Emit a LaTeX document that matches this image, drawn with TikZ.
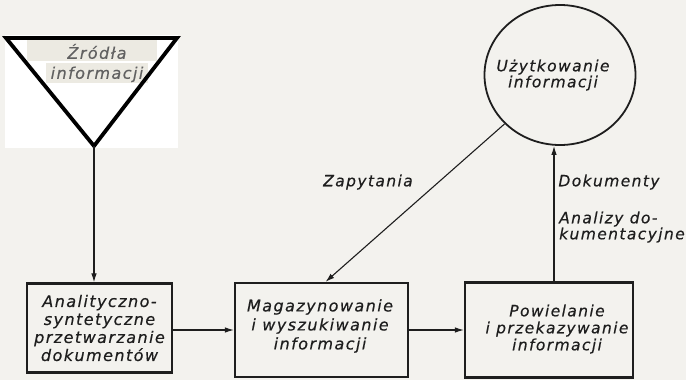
\documentclass[tikz,border=0pt]{standalone}
\usepackage{fontspec}
\newfontfamily\lab[LetterSpace=9,FakeBold=0.4]{DejaVu Sans}
\usetikzlibrary{arrows.meta,shapes.geometric}
\definecolor{paper}{HTML}{F3F2EE}
\definecolor{band}{HTML}{ECEAE2}
\definecolor{ink}{HTML}{1E1E1E}
\tikzset{
  txt/.style={font=\lab\itshape\fontsize{16}{18}\selectfont, text=ink, align=center, inner sep=0pt},
  boxnode/.style={draw=ink, line width=2.2pt, fill=paper, inner sep=0pt},
  arr/.style={draw=ink, line width=1.1pt, -{Latex[length=9pt,width=5.5pt]}},
  lbl/.style={font=\lab\itshape\fontsize{15.5}{17}\selectfont, text=ink, inner sep=0pt},
}
\begin{document}
\begin{tikzpicture}[x=1pt,y=-1pt]
\fill[paper] (0,0) rectangle (686,380);
\useasboundingbox (0,0) rectangle (686,380);
% source triangle
\fill[white] (5,35) rectangle (178,148);
\fill[band] (27,38) rectangle (157,61);
\fill[band] (46,63) rectangle (148,83);
\coordinate (tl) at (6,38);
\coordinate (tr) at (177,38);
\coordinate (apex) at (94,146);
\draw[line width=3.8pt, line join=miter] (tl) -- (tr) -- (apex) -- cycle;
\node[txt, text=ink!70, font=\lab\itshape\fontsize{16}{20}\selectfont] (src) at (97,63) {Źródła\\informacji};
% boxes
\node[boxnode, minimum width=145pt, minimum height=89pt] (b1) at (99.5,328) {};
\node[txt] at (b1) {Analityczno-\\syntetyczne\\przetwarzanie\\dokumentów};
\node[boxnode, minimum width=173pt, minimum height=94pt] (b2) at (321.5,330) {};
\node[txt, font=\lab\itshape\fontsize{16}{19}\selectfont] at (320,326) {Magazynowanie\\i wyszukiwanie\\informacji};
\node[boxnode, minimum width=168pt, minimum height=95pt] (b3) at (549,330) {};
\node[txt, font=\lab\itshape\fontsize{15.5}{17}\selectfont] at (557,329) {Powielanie\\i przekazywanie\\informacji};
% user circle
\node[draw=ink, line width=1.8pt, ellipse, minimum width=151pt, minimum height=140pt, inner sep=0pt] (circ) at (560,75) {};
\node[txt, font=\lab\itshape\fontsize{15.5}{16}\selectfont] at (553,75) {Użytkowanie\\informacji};
% connectors
\draw[arr] (apex) -- (b1.north -| apex);
\draw[arr] (b1.east |- b2.west) -- (b2.west);
\draw[arr] (b2.east) -- (b3.west);
\draw[arr] (circ) -- ([xshift=4pt]b2.north);
\draw[arr] ([xshift=5pt]b3.north) -- ([xshift=5pt]b3.north |- circ.south);
% labels
\node[lbl] (zap) at (368,182) {Zapytania};
\node[lbl] (dok) at (609,182) {Dokumenty};
\node[lbl, anchor=west, align=left, font=\lab\itshape\fontsize{15.5}{16}\selectfont] (anl) at (559,227) {Analizy do-\\kumentacyjne};
\end{tikzpicture}
\end{document}
